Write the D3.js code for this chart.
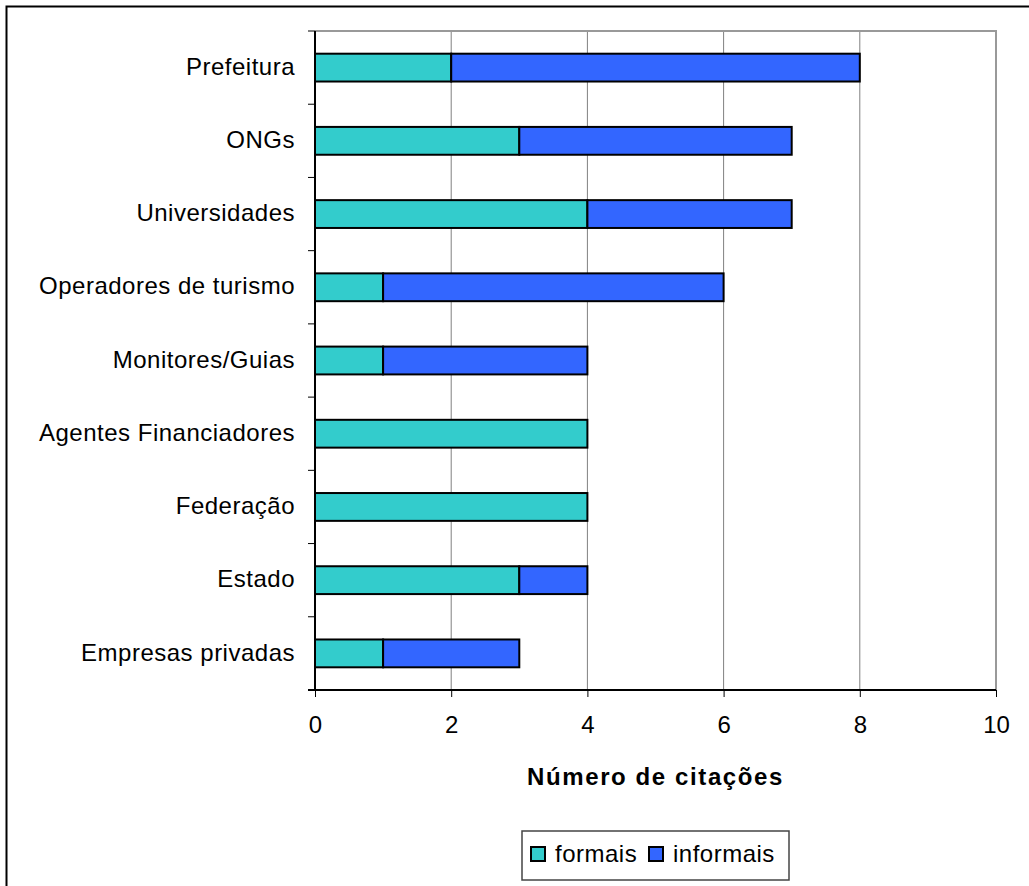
<!DOCTYPE html>
<html>
<head>
<meta charset="utf-8">
<script src="https://cdn.jsdelivr.net/npm/d3@7"></script>
<style>
  body { margin: 0; background: #fff; }
  text { font-family: "Liberation Sans", Arial, sans-serif; fill: #000; }
</style>
</head>
<body>
<svg id="plot"></svg>
<script>
// Data
const categories = ["Prefeitura", "ONGs", "Universidades", "Operadores de turismo",
  "Monitores/Guias", "Agentes Financiadores", "Federação", "Estado", "Empresas privadas"];
const formais = [2, 3, 4, 1, 1, 4, 4, 3, 1];
const informais = [6, 4, 3, 5, 3, 0, 0, 1, 2];
const seriesNames = ["formais", "informais"];
const colors = ["#33CCCC", "#3366FF"];
const xTicks = [0, 2, 4, 6, 8, 10];

const W = 1029, H = 886;
const margin = { top: 31, right: 33, bottom: 196, left: 315 };
const width = W - margin.left - margin.right;
const height = H - margin.top - margin.bottom;

const root = d3.select("#plot").attr("width", W).attr("height", H);

// outer chart border (only top/left visible)
root.append("path")
  .attr("d", `M6.5,${H} V6.5 H${W}`)
  .attr("fill", "none").attr("stroke", "#000").attr("stroke-width", 2);

const svg = root.append("g").attr("transform", `translate(${margin.left},${margin.top})`);

const x = d3.scaleLinear().domain([0, 10]).range([0, width]);
const y = d3.scaleBand().domain(categories).range([0, height]).paddingInner(0.62).paddingOuter(0.31);
const yOuter = d3.scaleBand().domain(categories).range([0, height]);

// gridlines
svg.selectAll(".grid").data(xTicks.slice(1, -1)).enter().append("line")
  .attr("x1", d => x(d)).attr("x2", d => x(d))
  .attr("y1", 0).attr("y2", height)
  .attr("stroke", "#808080").attr("stroke-width", 1);

// plot border top/right
svg.append("path")
  .attr("d", `M0,0 H${width} V${height}`)
  .attr("fill", "none").attr("stroke", "#999").attr("stroke-width", 2);

// stacked bars
const rows = categories.map((c, i) => ({ cat: c, formais: formais[i], informais: informais[i] }));
const stack = d3.stack().keys(seriesNames)(rows);

stack.forEach((layer, li) => {
  svg.selectAll(".bar" + li).data(layer.filter(d => d[1] > d[0])).enter().append("rect")
    .attr("x", d => x(d[0]))
    .attr("width", d => x(d[1]) - x(d[0]))
    .attr("y", d => y(d.data.cat))
    .attr("height", y.bandwidth())
    .attr("fill", colors[li])
    .attr("stroke", "#000").attr("stroke-width", 2);
});

// y axis with ticks at band boundaries
const yBounds = categories.map(c => yOuter(c)).concat([height]);
svg.selectAll(".ytick").data(yBounds).enter().append("line")
  .attr("x1", -7).attr("x2", 0)
  .attr("y1", d => d).attr("y2", d => d)
  .attr("stroke", "#000").attr("stroke-width", 1);
svg.append("line").attr("x1", 0).attr("x2", 0).attr("y1", 0).attr("y2", height + 1)
  .attr("stroke", "#000").attr("stroke-width", 2);

svg.selectAll(".ylabel").data(categories).enter().append("text")
  .attr("x", -20)
  .attr("y", d => yOuter(d) + yOuter.bandwidth() / 2)
  .attr("dy", "0.3em")
  .attr("text-anchor", "end")
  .style("font-size", "24px")
  .style("letter-spacing", "0.5px")
  .text(d => d);

// x axis
const xAxis = svg.append("g")
  .attr("transform", `translate(0,${height})`)
  .call(d3.axisBottom(x).tickValues(xTicks).tickSize(7).tickPadding(19));
xAxis.select(".domain").attr("stroke", "#000").attr("stroke-width", 2).attr("d", `M-7,0H${width}`);
xAxis.selectAll(".tick line").attr("stroke", "#000");
xAxis.selectAll(".tick text")
  .style("font-size", "24px")
  .style("font-family", '"Liberation Sans", Arial, sans-serif')
  .attr("fill", "#000");

// x axis title
svg.append("text")
  .attr("x", width / 2)
  .attr("y", height + 95)
  .attr("text-anchor", "middle")
  .style("font-size", "24px")
  .style("font-weight", "bold")
  .style("letter-spacing", "1.6px")
  .text("Número de citações");

// legend
const lg = root.append("g").attr("transform", "translate(522,831)");
lg.append("rect").attr("width", 267).attr("height", 49)
  .attr("fill", "#fff").attr("stroke", "#444").attr("stroke-width", 1.5);
const legendX = [9, 127];
seriesNames.forEach((s, i) => {
  lg.append("rect").attr("x", legendX[i]).attr("y", 16).attr("width", 14).attr("height", 14)
    .attr("fill", colors[i]).attr("stroke", "#000").attr("stroke-width", 2);
  lg.append("text").attr("x", legendX[i] + 24).attr("y", 31)
    .style("font-size", "24px").style("letter-spacing", "0.5px").text(s);
});
</script>
</body>
</html>
